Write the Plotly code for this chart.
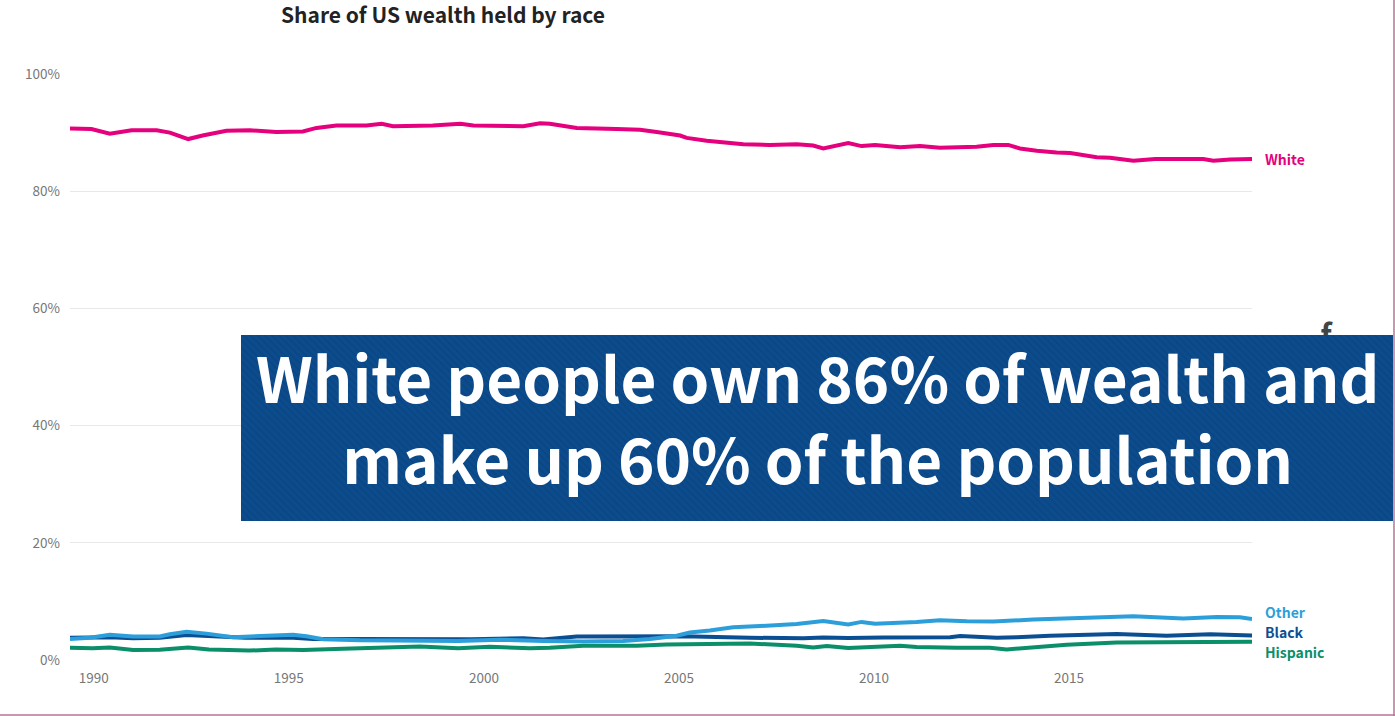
import plotly.graph_objects as go

# ---------------- data ----------------
white_years = [1989.39, 1989.94, 1990.41, 1990.97, 1991.61, 1991.95, 1992.42, 1992.79, 1993.40, 1994.00,
               1994.68, 1995.36, 1995.71, 1996.22, 1996.99, 1997.38, 1997.67, 1998.69, 1999.40, 1999.73,
               2001.01, 2001.44, 2001.69, 2002.38, 2003.40, 2004.00, 2004.43, 2005.03, 2005.20, 2005.71,
               2006.65, 2007.33, 2008.02, 2008.44, 2008.70, 2009.34, 2009.68, 2010.03, 2010.67, 2011.18,
               2011.69, 2012.63, 2013.06, 2013.44, 2013.74, 2014.17, 2014.68, 2015.03, 2015.71, 2016.05,
               2016.65, 2017.21, 2018.44, 2018.70, 2019.13, 2019.69]
white_share = [90.7, 90.6, 89.8, 90.4, 90.4, 90.0, 88.9, 89.5, 90.3, 90.4,
               90.1, 90.2, 90.8, 91.2, 91.2, 91.5, 91.1, 91.2, 91.5, 91.2,
               91.1, 91.6, 91.5, 90.8, 90.6, 90.5, 90.1, 89.5, 89.1, 88.6,
               88.0, 87.9, 88.0, 87.8, 87.3, 88.2, 87.7, 87.9, 87.5, 87.7,
               87.4, 87.6, 87.9, 87.9, 87.3, 86.9, 86.6, 86.5, 85.8, 85.7,
               85.2, 85.5, 85.5, 85.2, 85.4, 85.5]

other_years = [1989.39, 1989.90, 1990.41, 1991.01, 1991.69, 1991.95, 1992.38, 1992.89, 1993.57, 1994.26,
               1995.11, 1995.45, 1995.88, 1996.82, 1997.67, 1998.53, 1999.34, 2000.41, 2001.52, 2002.55,
               2003.57, 2004.26, 2004.94, 2005.28, 2005.79, 2006.39, 2007.08, 2008.02, 2008.70, 2009.34,
               2009.68, 2010.03, 2011.09, 2011.69, 2012.38, 2013.06, 2014.08, 2015.37, 2016.65, 2017.93,
               2018.79, 2019.38, 2019.69]
other_share = [3.6, 3.8, 4.3, 4.0, 4.0, 4.4, 4.8, 4.5, 3.9, 4.15,
               4.3, 4.05, 3.55, 3.35, 3.25, 3.3, 3.25, 3.45, 3.25, 3.15,
               3.25, 3.6, 4.15, 4.7, 5.05, 5.6, 5.8, 6.15, 6.65, 6.05,
               6.5, 6.2, 6.5, 6.8, 6.6, 6.55, 6.9, 7.2, 7.45, 7.1,
               7.35, 7.3, 7.0]

black_years = [1989.39, 1989.97, 1990.41, 1991.01, 1991.69, 1992.38, 1992.95, 1993.89, 1995.11, 1995.62,
               1996.82, 1997.67, 1999.34, 1999.67, 2001.01, 2001.52, 2002.38, 2004.26, 2005.11, 2006.82,
               2008.19, 2008.70, 2009.34, 2010.24, 2011.95, 2012.21, 2013.15, 2013.66, 2014.51, 2016.22,
               2017.50, 2018.62, 2019.69]
black_share = [3.8, 3.8, 3.9, 3.7, 3.8, 4.25, 4.05, 3.8, 3.8, 3.6,
               3.6, 3.55, 3.5, 3.55, 3.7, 3.5, 4.0, 4.15, 4.05, 3.8,
               3.7, 3.85, 3.75, 3.85, 3.9, 4.1, 3.8, 3.9, 4.15, 4.45,
               4.15, 4.4, 4.2]

hispanic_years = [1989.39, 1989.97, 1990.41, 1991.01, 1991.69, 1992.42, 1992.95, 1993.98, 1994.66, 1995.37,
                  1996.39, 1997.25, 1998.36, 1999.34, 2000.15, 2001.18, 2001.69, 2002.55, 2003.92, 2004.68,
                  2005.79, 2006.82, 2008.02, 2008.44, 2008.79, 2009.34, 2010.67, 2011.09, 2012.12, 2012.97,
                  2013.40, 2014.08, 2014.94, 2016.22, 2017.93, 2019.69]
hispanic_share = [2.1, 2.0, 2.15, 1.7, 1.75, 2.15, 1.8, 1.6, 1.8, 1.7,
                  1.9, 2.05, 2.3, 2.0, 2.25, 2.0, 2.1, 2.45, 2.45, 2.65,
                  2.8, 2.8, 2.45, 2.15, 2.4, 2.05, 2.45, 2.2, 2.1, 2.1,
                  1.8, 2.2, 2.6, 3.0, 3.05, 3.1]

x_ticks = [1990, 1995, 2000, 2005, 2010, 2015]
y_ticks = [0, 20, 40, 60, 80, 100]
y_tick_labels = ["0%", "20%", "40%", "60%", "80%", "100%"]

title_text = "Share of US wealth held by race"
banner_line1 = "White people own 86% of wealth and"
banner_line2 = "make up 60% of the population"

# ---------------- styling ----------------
W, H = 1395, 716
FONT = "Noto Sans CJK SC, Source Sans Pro, Noto Sans, sans-serif"
series = [
    # name, years, values, colour, label y-shift (px)
    ("Hispanic", hispanic_years, hispanic_share, "#0a8f6a", -10),
    ("Black", black_years, black_share, "#0b4f93", 3),
    ("Other", other_years, other_share, "#2c9fdb", 7),
    ("White", white_years, white_share, "#e5007d", 0),
]

fig = go.Figure()

for name, xs, ys, col, _ in series:
    fig.add_trace(go.Scatter(x=xs, y=ys, mode="lines", name=name,
                             line=dict(color=col, width=4, shape="linear"),
                             xaxis="x", yaxis="y", showlegend=False, hoverinfo="skip"))

# overlay (full-figure, pixel-coordinate) subplot for the decorative elements
fig.add_trace(go.Scatter(x=[1326], y=[338], mode="text", text=["<b>f</b>"],
                         textfont=dict(family=FONT, size=30, color="#444444"),
                         xaxis="x2", yaxis="y2", showlegend=False, hoverinfo="skip"))
bx0, bx1, by0, by1 = 241, 1393, 335, 521
fig.add_trace(go.Scatter(x=[bx0, bx1, bx1, bx0, bx0], y=[by0, by0, by1, by1, by0],
                         mode="lines", fill="toself", line=dict(width=0, color="#0b4b8c"),
                         fillcolor="#0b4b8c",
                         fillpattern=dict(shape="\\", bgcolor="#0c4c8d", fgcolor="#07407a",
                                          size=5, solidity=0.35),
                         xaxis="x2", yaxis="y2", showlegend=False, hoverinfo="skip"))

annotations = []
for name, xs, ys, col, dy in series:
    annotations.append(dict(x=xs[-1], y=ys[-1], xref="x", yref="y", text=name,
                            showarrow=False, xanchor="left", yanchor="middle",
                            xshift=11, yshift=dy,
                            font=dict(family=FONT, size=14, color=col, weight=600)))

annotations.append(dict(x=443, y=14, xref="x2", yref="y2", text=title_text, showarrow=False,
                        xanchor="center", yanchor="middle",
                        font=dict(family=FONT, size=21, color="#222222", weight="bold")))
annotations.append(dict(x=(bx0 + bx1) / 2, y=416, xref="x2", yref="y2",
                        text=banner_line1 + "<br>" + banner_line2,
                        showarrow=False, xanchor="center", yanchor="middle", align="center",
                        font=dict(family=FONT, size=62, color="#ffffff", weight="bold")))

frame_col = "#b9749a"
shapes = [
    dict(type="line", xref="x2", yref="y2", x0=1394, x1=1394, y0=0, y1=716,
         line=dict(color=frame_col, width=1.5), layer="above"),
    dict(type="line", xref="x2", yref="y2", x0=0, x1=1395, y0=715, y1=715,
         line=dict(color=frame_col, width=1.5), layer="above"),
]

px_l, px_r, px_t, px_b = 70, 1252, 74, 660
fig.update_layout(
    width=W, height=H,
    margin=dict(l=0, r=0, t=0, b=0),
    paper_bgcolor="#ffffff", plot_bgcolor="rgba(0,0,0,0)",
    font=dict(family=FONT, color="#777777", size=13),
    xaxis=dict(domain=[px_l / W, px_r / W], range=[white_years[0], white_years[-1]],
               tickvals=x_ticks, ticktext=[str(t) for t in x_ticks],
               showgrid=False, zeroline=False, showline=False, ticks="",
               tickfont=dict(family=FONT, size=13.5, color="#777777"),
               ticklabelstandoff=8, automargin=False, anchor="y"),
    yaxis=dict(domain=[(H - px_b) / H, (H - px_t) / H], range=[0, 100],
               tickvals=y_ticks, ticktext=y_tick_labels,
               showgrid=True, gridcolor="#e8e8e8", gridwidth=1,
               zeroline=False, showline=False, ticks="",
               tickfont=dict(family=FONT, size=13.5, color="#777777"),
               ticklabelstandoff=9, automargin=False, anchor="x"),
    xaxis2=dict(domain=[0, 1], range=[0, W], visible=False, anchor="y2", fixedrange=True),
    yaxis2=dict(domain=[0, 1], range=[H, 0], visible=False, anchor="x2", fixedrange=True),
    annotations=annotations,
    shapes=shapes,
)

fig.write_html("out.html", config={"displayModeBar": False},
               post_script="document.body.style.margin='0px';document.body.style.overflow='hidden';")
